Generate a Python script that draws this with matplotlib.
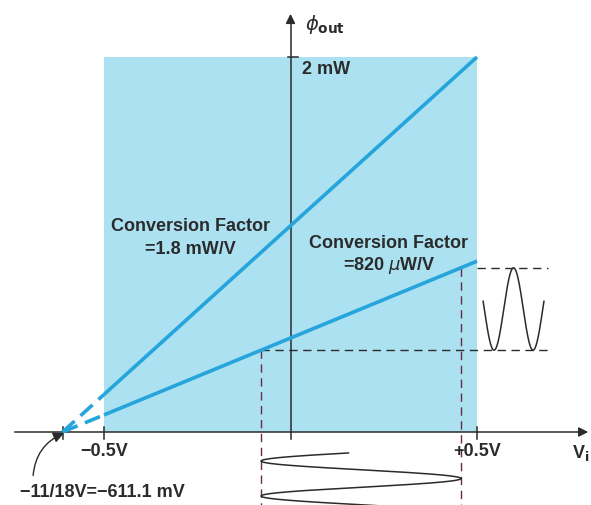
import numpy as np
import matplotlib
matplotlib.use('Agg')
import matplotlib.pyplot as plt
from matplotlib.patches import Rectangle

plt.rcParams['font.family'] = ['Liberation Sans', 'DejaVu Sans']

# chart values
v_ticks = [-0.5, 0.5]                 # V
tick_labels = ['\u22120.5V', '+0.5V']
slopes = [1.8, 0.82]                  # mW/V
slope_labels = ['=1.8 mW/V', '=820 $\\mu$W/V']
v_zero = -11.0 / 18.0                 # V, common intercept
p_max = 2.0                           # mW
v_swing = [-0.079, 0.457]             # input swing (V)

blue = '#25a5dc'
shade = '#abe1f0'
ink = '#2b2b2b'
red_ink = '#6a2c44'

fig = plt.figure(figsize=(5.91, 5.06), dpi=100)
ax = fig.add_axes([0, 0, 1, 1])
ax.set_xlim(-0.7788, 0.8056)
ax.set_ylim(-0.3893, 2.3093)
ax.axis('off')

# shaded operating area
ax.add_patch(Rectangle((v_ticks[0], 0), v_ticks[1] - v_ticks[0], p_max,
                       facecolor=shade, edgecolor='none', zorder=0))

# axes with arrows
ax.plot([-0.739, 0.78], [0, 0], color=ink, lw=1.1, zorder=2)
ax.annotate('', xy=(0.8056, 0), xytext=(0.77, 0),
            arrowprops=dict(arrowstyle='-|>', color=ink, lw=1.1, mutation_scale=14))
ax.plot([0, 0], [-0.037, 2.20], color=ink, lw=1.1, zorder=2)
ax.annotate('', xy=(0, 2.245), xytext=(0, 2.18),
            arrowprops=dict(arrowstyle='-|>', color=ink, lw=1.1, mutation_scale=14))
for v in v_ticks + [v_zero]:
    ax.plot([v, v], [-0.035, 0.028], color=ink, lw=1.1, zorder=2)
ax.plot([-0.008, 0.02], [p_max, p_max], color=ink, lw=1.1, zorder=2)

# conversion lines
for s in slopes:
    vv = np.array([v_zero, v_ticks[0]])
    ax.plot(vv, s * (vv - v_zero), color=blue, lw=2.6, ls=(0, (4.5, 2.2)),
            solid_capstyle='butt', zorder=3)
    vv = np.array([v_ticks[0], v_ticks[1]])
    ax.plot(vv, s * (vv - v_zero), color=blue, lw=2.6, solid_capstyle='butt', zorder=3)

# operating point projections on the 820 uW/V line
p_lo = slopes[1] * (v_swing[0] - v_zero)
p_hi = slopes[1] * (v_swing[1] - v_zero)
dash = (0, (6, 4))
ax.plot([v_swing[0], 0.69], [p_lo, p_lo], color=ink, lw=1.0, ls=dash, zorder=2)
ax.plot([v_ticks[1], 0.69], [p_hi, p_hi], color=ink, lw=1.0, ls=dash, zorder=2)
ax.plot([v_swing[0], v_swing[0]], [p_lo, -0.3893], color=red_ink, lw=1.0, ls=dash, zorder=2)
ax.plot([v_swing[1], v_swing[1]], [p_hi, -0.3893], color=red_ink, lw=1.0, ls=dash, zorder=2)

# output sine (right)
t = np.linspace(-0.28, 1.28, 200)
ax.plot(0.5456 + 0.1046 * t, p_lo + (p_hi - p_lo) * (1 - np.cos(2 * np.pi * t)) / 2,
        color=ink, lw=1.1, zorder=3)

# input sine (bottom, time runs downward)
s = np.linspace(-0.23, 1.6, 300)
ax.plot(v_swing[0] + (v_swing[1] - v_swing[0]) * (1 - np.cos(2 * np.pi * s)) / 2,
        -0.1547 - 0.1867 * s, color=ink, lw=1.1, zorder=3)

# texts
fs = 13
ax.text(0.031, 1.936, '2 mW', fontsize=fs, fontweight='bold', color=ink,
        ha='left', va='center')
ax.text(0.039, 2.176, r'$\phi_{\mathbf{out}}$', fontsize=fs + 1, color=ink,
        ha='left', va='center')
ax.text(-0.2694, 1.099, 'Conversion Factor', fontsize=fs, fontweight='bold', color=ink,
        ha='center', va='center')
ax.text(-0.2694, 0.976, slope_labels[0], fontsize=fs, fontweight='bold', color=ink,
        ha='center', va='center')
ax.text(0.263, 1.013, 'Conversion Factor', fontsize=fs, fontweight='bold', color=ink,
        ha='center', va='center')
ax.text(0.265, 0.896, slope_labels[1], fontsize=fs, fontweight='bold', color=ink,
        ha='center', va='center')
for v, lab in zip(v_ticks, tick_labels):
    ax.text(v, -0.101, lab, fontsize=fs, fontweight='bold', color=ink,
            ha='center', va='center')
ax.text(0.756, -0.104, r'V$_\mathbf{i}$', fontsize=fs, fontweight='bold', color=ink,
        ha='left', va='center')
ax.text(-0.504, -0.3147, '\u221211/18V=\u2212611.1 mV', fontsize=fs, fontweight='bold',
        color=ink, ha='center', va='center')
ax.annotate('', xy=(v_zero + 0.004, -0.006), xytext=(-0.690, -0.232),
            arrowprops=dict(arrowstyle='-|>', color=ink, lw=1.0, mutation_scale=16,
                            connectionstyle='arc3,rad=-0.3', shrinkA=0, shrinkB=0))

fig.savefig('out.png', dpi=100)
